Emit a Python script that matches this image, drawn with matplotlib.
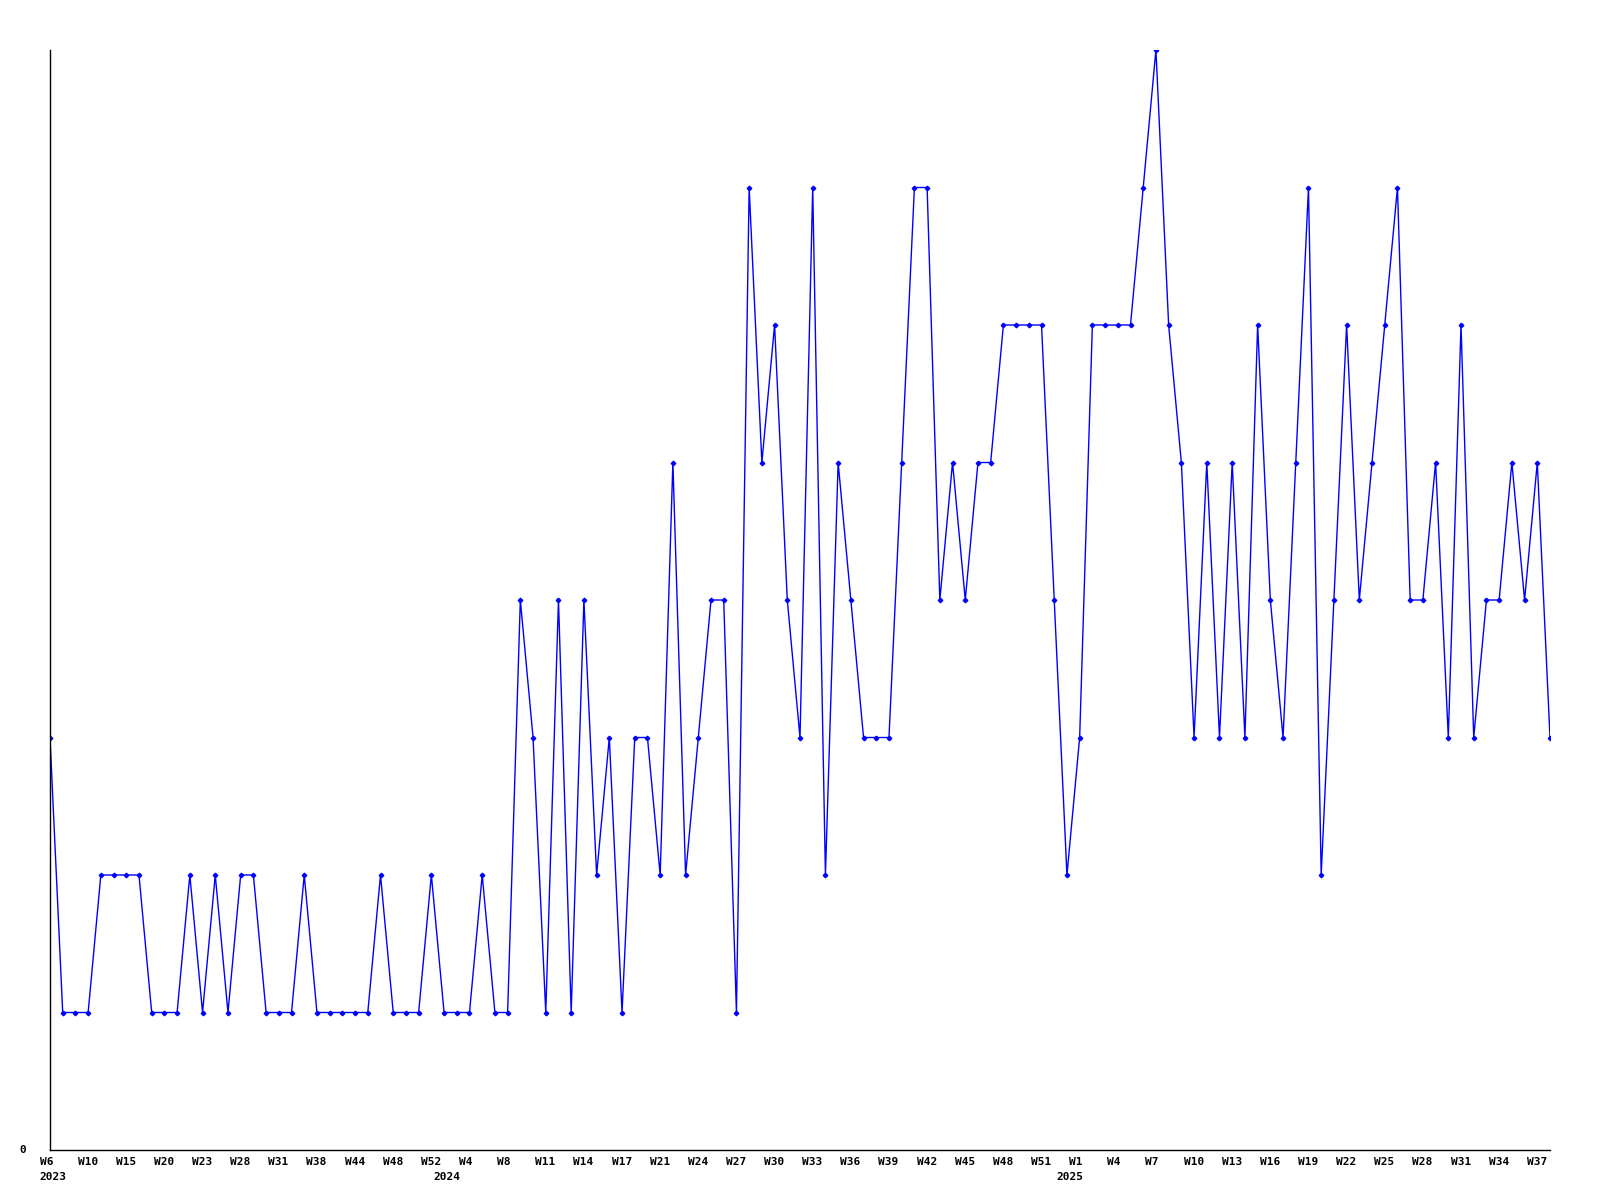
import numpy as np
import matplotlib
matplotlib.use('Agg')
import matplotlib.pyplot as plt

# weekly counts, one point per week that has data
values = [3, 1, 1, 1, 2, 2, 2, 2, 1, 1,
          1, 2, 1, 2, 1, 2, 2, 1, 1, 1,
          2, 1, 1, 1, 1, 1, 2, 1, 1, 1,
          2, 1, 1, 1, 2, 1, 1, 4, 3, 1,
          4, 1, 4, 2, 3, 1, 3, 3, 2, 5,
          2, 3, 4, 4, 1, 7, 5, 6, 4, 3,
          7, 2, 5, 4, 3, 3, 3, 5, 7, 7,
          4, 5, 4, 5, 5, 6, 6, 6, 6, 4,
          2, 3, 6, 6, 6, 6, 7, 8, 6, 5,
          3, 5, 3, 5, 3, 6, 4, 3, 5, 7,
          2, 4, 6, 4, 5, 6, 7, 4, 4, 5,
          3, 6, 3, 4, 4, 5, 4, 5, 3]

# labels shown on every third point
week_labels = ['W6', 'W10', 'W15', 'W20', 'W23', 'W28', 'W31', 'W38', 'W44', 'W48', 'W52',
               'W4', 'W8', 'W11', 'W14', 'W17', 'W21', 'W24', 'W27', 'W30', 'W33', 'W36',
               'W39', 'W42', 'W45', 'W48', 'W51',
               'W1', 'W4', 'W7', 'W10', 'W13', 'W16', 'W19', 'W22', 'W25', 'W28', 'W31',
               'W34', 'W37']
year_labels = ['2023', '2024', '2025']
year_pos = [0, 31, 80]

x = np.arange(len(values))

fig = plt.figure(figsize=(16, 12), dpi=100)
ax = fig.add_axes([50 / 1600, 50 / 1200, 1500 / 1600, 1100 / 1200])

ax.plot(x, values, color='#0000ff', linewidth=1, marker='D', markersize=2.3,
        markerfacecolor='#0000ff', markeredgecolor='#0000ff')

ax.set_xlim(0, len(values) - 1)
ax.set_ylim(0, 8)
ax.set_xticks([])
ax.set_yticks([])
for s in ['top', 'right']:
    ax.spines[s].set_visible(False)
for s in ['left', 'bottom']:
    ax.spines[s].set_color('black')
    ax.spines[s].set_linewidth(1)

font = dict(family='DejaVu Sans Mono', fontweight='bold', fontsize=8)

for i, lab in zip(x[::3], week_labels):
    ax.annotate(lab, xy=(i, 0), xycoords=('data', 'axes fraction'),
                xytext=(-10.5, -12), textcoords='offset pixels',
                ha='left', va='center', **font)

for i, lab in zip(year_pos, year_labels):
    ax.annotate(lab, xy=(i, 0), xycoords=('data', 'axes fraction'),
                xytext=(-10.5, -27), textcoords='offset pixels',
                ha='left', va='center', **font)

ax.annotate('0', xy=(0, 0), xycoords='axes fraction', xytext=(-27, 0),
            textcoords='offset pixels', ha='center', va='center', **font)

fig.savefig('out.png', dpi=100, facecolor='white')
